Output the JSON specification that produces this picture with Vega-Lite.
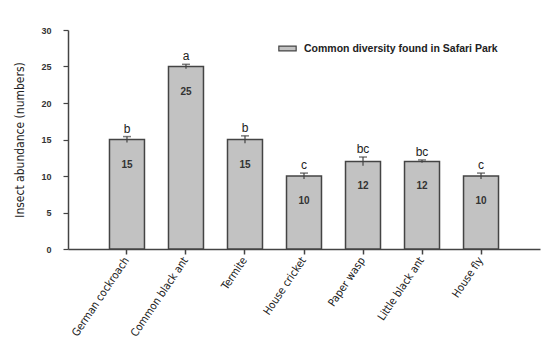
{
  "$schema": "https://vega.github.io/schema/vega-lite/v6.json",
  "width": 472,
  "height": 219,
  "autosize": {"type": "none"},
  "padding": {"left": 68, "top": 30, "right": 9, "bottom": 94},
  "background": "white",
  "config": {
    "view": {"stroke": null},
    "font": "Liberation Sans",
    "axisY": {
      "tickCount": 7,
      "titleFont": "DejaVu Sans Condensed, Liberation Sans, sans-serif",
      "titleFontSize": 12,
      "titleFontWeight": "normal",
      "titleColor": "#222",
      "titlePadding": 14,
      "labelFontSize": 9,
      "labelFontWeight": "bold",
      "labelColor": "#333",
      "labelPadding": 12,
      "labelOverlap": false,
      "tickSize": 5,
      "tickColor": "#444",
      "tickWidth": 1.2,
      "domainColor": "#444",
      "domainWidth": 1.5,
      "grid": false
    }
  },
  "data": {
    "values": [
      {"insect": "German cockroach", "abundance": 15, "err": 0.4, "group": "b", "series": "Common diversity found in Safari Park"},
      {"insect": "Common black ant", "abundance": 25, "err": 0.3, "group": "a", "series": "Common diversity found in Safari Park"},
      {"insect": "Termite", "abundance": 15, "err": 0.5, "group": "b", "series": "Common diversity found in Safari Park"},
      {"insect": "House cricket", "abundance": 10, "err": 0.4, "group": "c", "series": "Common diversity found in Safari Park"},
      {"insect": "Paper wasp", "abundance": 12, "err": 0.6, "group": "bc", "series": "Common diversity found in Safari Park"},
      {"insect": "Little black ant", "abundance": 12, "err": 0.2, "group": "bc", "series": "Common diversity found in Safari Park"},
      {"insect": "House fly", "abundance": 10, "err": 0.4, "group": "c", "series": "Common diversity found in Safari Park"}
    ]
  },
  "transform": [
    {"calculate": "datum.abundance + datum.err", "as": "hi"},
    {"calculate": "datum.abundance - datum.err", "as": "lo"}
  ],
  "encoding": {
    "x": {
      "field": "insect",
      "type": "nominal",
      "sort": null,
      "scale": {"paddingInner": 0.407, "paddingOuter": 0.703},
      "axis": {
        "title": null,
        "labelAngle": -56,
        "labelAlign": "right",
        "labelBaseline": "middle",
        "labelFont": "DejaVu Sans Condensed, Liberation Sans, sans-serif",
        "labelFontSize": 11,
        "labelColor": "#222",
        "labelPadding": 4,
        "tickSize": 5,
        "tickColor": "#444",
        "tickWidth": 1.5,
        "domainColor": "#444",
        "domainWidth": 1.5
      }
    }
  },
  "layer": [
    {
      "mark": {"type": "bar", "fill": "#c2c2c2", "stroke": "#444", "strokeWidth": 1.5},
      "encoding": {
        "y": {
          "field": "abundance",
          "type": "quantitative",
          "scale": {"domain": [0, 30], "nice": false},
          "axis": {"title": "Insect abundance (numbers)"}
        },
        "color": {
          "field": "series",
          "type": "nominal",
          "scale": {"range": ["#c2c2c2"]},
          "legend": {
            "title": null,
            "orient": "none",
            "legendX": 210,
            "legendY": 9,
            "symbolType": "M-1,-0.28H1V0.28H-1Z",
            "symbolSize": 300,
            "symbolStrokeColor": "#444",
            "symbolStrokeWidth": 1.2,
            "symbolFillColor": "#c2c2c2",
            "labelFontSize": 10.5,
            "labelFontWeight": "bold",
            "labelColor": "#222",
            "labelLimit": 400,
            "labelOffset": 7
          }
        }
      }
    },
    {
      "mark": {"type": "rule", "stroke": "#444", "strokeWidth": 1.2},
      "encoding": {
        "y": {"field": "lo", "type": "quantitative"},
        "y2": {"field": "hi"}
      }
    },
    {
      "mark": {"type": "tick", "color": "#444", "thickness": 1.5, "size": 8, "orient": "horizontal"},
      "encoding": {
        "y": {"field": "hi", "type": "quantitative"}
      }
    },
    {
      "mark": {"type": "text", "dy": -1, "baseline": "bottom", "fontSize": 12, "color": "#222"},
      "encoding": {
        "y": {"field": "hi", "type": "quantitative"},
        "text": {"field": "group"}
      }
    },
    {
      "mark": {"type": "text", "dy": 25, "baseline": "middle", "fontSize": 10, "fontWeight": "bold", "color": "#333"},
      "encoding": {
        "y": {"field": "abundance", "type": "quantitative"},
        "text": {"field": "abundance"}
      }
    }
  ]
}
